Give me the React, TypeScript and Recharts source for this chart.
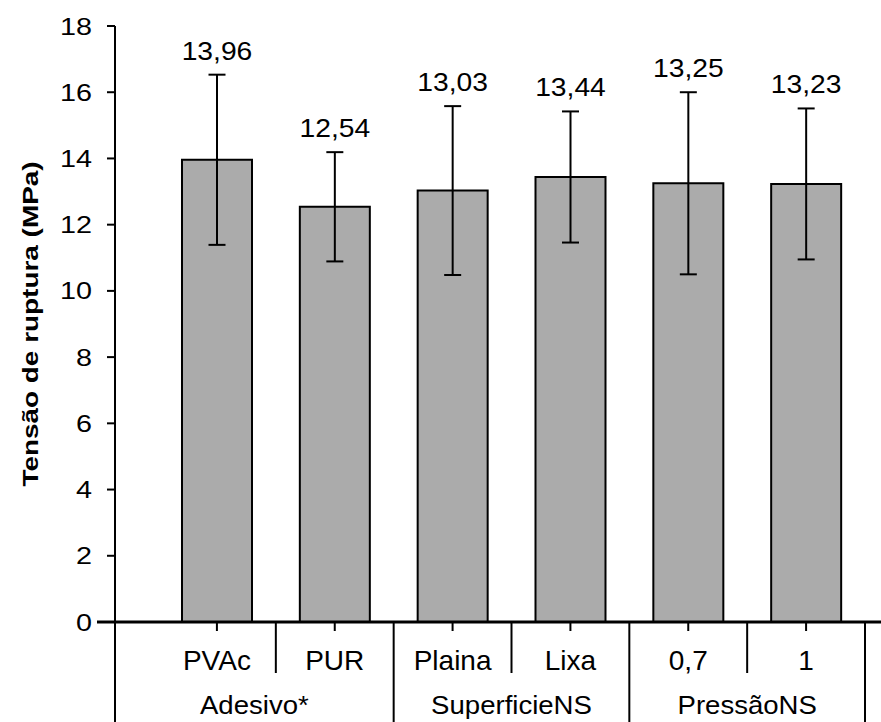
import React from 'react';
import { BarChart, Bar, XAxis, YAxis, ErrorBar, LabelList } from 'recharts';

// Mean rupture stress per treatment, with standard deviation
const categories = ['PVAc', 'PUR', 'Plaina', 'Lixa', '0,7', '1'];
const means = [13.96, 12.54, 13.03, 13.44, 13.25, 13.23];
const deviations = [2.57, 1.65, 2.55, 1.98, 2.75, 2.28];

// Factor groups along the category axis
const groupLabels = ['Adesivo*', 'SuperficieNS', 'PressãoNS'];
const groupSizes = [2, 2, 2];

const yTicks = [0, 2, 4, 6, 8, 10, 12, 14, 16, 18];
const yTitle = 'Tensão de ruptura (MPa)';

const data = categories.map((name, i) => ({ name, value: means[i], err: deviations[i] }));

// layout
const CHART_W = 881;
const CHART_H = 722;
const Y_AXIS_W = 115;
const X_AXIS_H = 100;
const PAD_LEFT = 43;
const PAD_RIGHT = 16;
const BAND = (CHART_W - Y_AXIS_W - PAD_LEFT - PAD_RIGHT) / categories.length;

const FONT = '"Liberation Sans", Arial, sans-serif';

type TextProps = {
  x: number;
  y: number;
  sx?: number;
  size: number;
  weight?: string | number;
  anchor?: 'start' | 'middle' | 'end';
  rotate?: number;
  children: React.ReactNode;
};

function WideText({ x, y, sx = 1, size, weight = 'normal', anchor = 'middle', rotate, children }: TextProps) {
  const rot = rotate ? ` rotate(${rotate})` : '';
  return (
    <text
      transform={`translate(${x},${y})${rot} scale(${sx},1)`}
      x={0}
      y={0}
      textAnchor={anchor}
      fontSize={size}
      fontWeight={weight}
      fontFamily={FONT}
      fill="#000"
    >
      {children}
    </text>
  );
}

function YTick(props: any) {
  const { x, y, payload } = props;
  const isZero = payload.value === 0;
  return (
    <g>
      <line
        x1={x - (isZero ? 18 : 8)}
        x2={x}
        y1={y}
        y2={y}
        stroke="#000"
        strokeWidth={isZero ? 3 : 2}
      />
      <WideText x={x - 23} y={y + 8.5} size={23} sx={1.25} anchor="end">
        {String(payload.value)}
      </WideText>
    </g>
  );
}

function groupOf(index: number) {
  let start = 0;
  for (let g = 0; g < groupSizes.length; g++) {
    if (index < start + groupSizes[g]) return { g, start };
    start += groupSizes[g];
  }
  return { g: groupSizes.length - 1, start: start - groupSizes[groupSizes.length - 1] };
}

function XTick(props: any) {
  const { x, y, payload } = props;
  const index: number = payload.index;
  const half = typeof payload.offset === 'number' && payload.offset > 0 ? payload.offset : BAND / 2;
  const band = half * 2;
  const bottom = y + X_AXIS_H;
  const { g, start } = groupOf(index);
  const leftEdge = x - half;
  const rightEdge = x + half;
  const parts: React.ReactNode[] = [];

  // category tick mark
  parts.push(<line key="t" x1={x} x2={x} y1={y} y2={y + 9} stroke="#000" strokeWidth={2} />);
  // category label
  parts.push(
    <WideText key="l" x={x} y={y + 48} size={28}>
      {payload.value}
    </WideText>
  );

  if (index === start) {
    // first category of a group: full-height separator and the group label
    const groupLeft = g === 0 ? leftEdge - PAD_LEFT : leftEdge;
    const groupRight = leftEdge + groupSizes[g] * band;
    parts.push(<line key="gs" x1={groupLeft} x2={groupLeft} y1={y} y2={bottom} stroke="#000" strokeWidth={2} />);
    parts.push(
      <WideText key="gl" x={(groupLeft + groupRight) / 2} y={y + 92} size={26} sx={1.06}>
        {groupLabels[g]}
      </WideText>
    );
  } else {
    // separator between categories inside a group
    parts.push(<line key="cs" x1={leftEdge} x2={leftEdge} y1={y} y2={y + 51} stroke="#000" strokeWidth={2} />);
  }

  if (index === categories.length - 1) {
    parts.push(<line key="end" x1={rightEdge} x2={rightEdge} y1={y} y2={bottom} stroke="#000" strokeWidth={2} />);
  }

  return <g>{parts}</g>;
}

function ValueLabel(props: any) {
  const { x, y, width, height, value, index } = props;
  const v = Number(value);
  const pxPerUnit = v > 0 ? height / v : 0;
  const errTop = y - deviations[index] * pxPerUnit;
  return (
    <WideText x={x + width / 2} y={errTop - 15} size={25} sx={1.13}>
      {v.toFixed(2).replace('.', ',')}
    </WideText>
  );
}

function YTitle(props: any) {
  const { viewBox } = props;
  const cy = viewBox.y + viewBox.height / 2;
  return (
    <WideText x={38} y={cy} size={22} sx={1.27} weight="bold" rotate={-90}>
      {yTitle}
    </WideText>
  );
}

export default function App() {
  return (
    <div style={{ position: 'absolute', left: 0, top: 0, background: '#fff' }}>
      <BarChart
        width={CHART_W}
        height={CHART_H}
        data={data}
        margin={{ top: 26, right: 0, bottom: 0, left: 0 }}
        barSize={70}
      >
        <YAxis
          type="number"
          domain={[0, 18]}
          ticks={yTicks}
          interval={0}
          width={Y_AXIS_W}
          tickSize={0}
          tickMargin={0}
          tickLine={false}
          axisLine={{ stroke: '#000', strokeWidth: 2 }}
          tick={<YTick />}
          label={{ content: <YTitle /> }}
        />
        <XAxis
          dataKey="name"
          height={X_AXIS_H}
          interval={0}
          padding={{ left: PAD_LEFT, right: PAD_RIGHT }}
          tickSize={0}
          tickMargin={0}
          tickLine={false}
          axisLine={{ stroke: '#000', strokeWidth: 3 }}
          tick={<XTick />}
        />
        <Bar dataKey="value" fill="#ababab" stroke="#000" strokeWidth={2} isAnimationActive={false}>
          <ErrorBar dataKey="err" direction="y" width={8.5} stroke="#000" strokeWidth={2} />
          <LabelList dataKey="value" content={<ValueLabel />} />
        </Bar>
      </BarChart>
    </div>
  );
}
